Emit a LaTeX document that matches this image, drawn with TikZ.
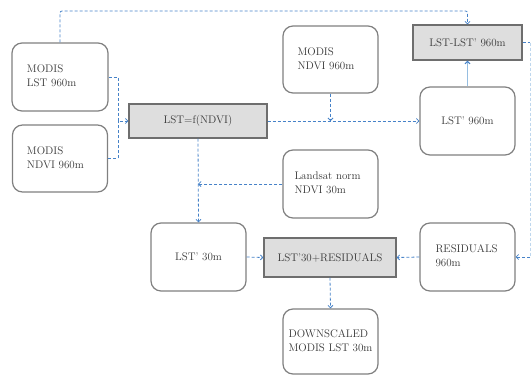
\documentclass[tikz,border=0pt]{standalone}
\usetikzlibrary{arrows.meta,calc}
\definecolor{lineblue}{RGB}{70,130,200}
\definecolor{paleblue}{RGB}{150,190,225}
\definecolor{faintblue}{RGB}{190,215,238}
\definecolor{boxedge}{RGB}{128,128,128}
\definecolor{grayfill}{RGB}{222,222,222}
\definecolor{grayedge}{RGB}{110,110,110}
\definecolor{txt}{RGB}{55,55,55}
\newcommand{\twol}[2]{\raisebox{3pt}{\begin{tabular}{@{}l@{}}#1\\#2\end{tabular}}}
\tikzset{
  rbox/.style={draw=boxedge, line width=1.2pt, rounded corners=10pt, fill=white,
    text=txt, font=\fontsize{11}{14}\selectfont, inner sep=0pt,
    minimum width=95pt, minimum height=68pt, align=left},
  gbox/.style={draw=grayedge, line width=1.2pt, fill=grayfill,
    text=txt, font=\fontsize{11}{14}\selectfont, inner sep=0pt},
  dl/.style={draw=lineblue, line width=0.8pt, dash pattern=on 3pt off 2pt,
    -{Straight Barb[length=2.5pt,width=5pt]}},
  dlp/.style={draw=lineblue, line width=0.8pt, dash pattern=on 3pt off 2pt},
  sl/.style={draw=paleblue, line width=1pt, -{Straight Barb[length=2.5pt,width=5pt,color=lineblue]}}
}
\begin{document}
\begin{tikzpicture}[x=1pt,y=-1pt]
\useasboundingbox (0,0) rectangle (531,376);
% boxes
\node[rbox, minimum width=96pt, text width=66pt] (mlst) at (60,77) {\twol{MODIS}{LST 960m}};
\node[rbox, minimum height=67pt, text width=66pt] (mndvi) at (60,158.5) {\twol{MODIS}{NDVI 960m}};
\node[gbox, minimum width=138pt, minimum height=34pt] (fndvi) at (198,121) {LST=f(NDVI)};
\node[rbox, minimum height=67pt, text width=66pt] (tndvi) at (330.5,59.5) {\twol{MODIS}{NDVI 960m}};
\node[gbox, minimum width=109pt, minimum height=35pt] (diff) at (467.5,42.5) {LST-LST' 960m};
\node[rbox, align=center] (lst960) at (467.5,121) {LST' 960m};
\node[rbox, text width=72pt] (landsat) at (330.5,184) {\twol{Landsat norm}{NDVI 30m}};
\node[rbox, align=center] (lst30) at (198.5,257) {LST' 30m};
\node[gbox, minimum width=132pt, minimum height=39pt] (sum) at (330,257.5) {LST'30+RESIDUALS};
\node[rbox, text width=64pt] (resid) at (467.5,257) {\twol{RESIDUALS}{960m}};
\node[rbox, minimum height=65pt, align=center] (down) at (330.5,341.5) {\twol{DOWNSCALED}{MODIS LST 30m}};
% junction coordinates
\coordinate (topc) at (467.5,11);
\coordinate (j1) at (118,121);
\coordinate (j2) at (330.5,121);
\coordinate (j3) at (198,184);
\coordinate (rc) at (530,42.5);
\coordinate (rb) at (530,257);
% connectors
\draw[dl, rounded corners=2pt] (mlst.north) |- (topc) -- (diff.north);
\draw[dl] (mlst.east) -| (j1) -- (fndvi.west);
\draw[dlp] (mndvi.east) -| (j1);
\draw[dl] (fndvi.east) -- (lst960.west);
\draw[dl] (tndvi.south) -- (j2);
\draw[sl] (lst960.north) -- (diff.south);
\draw[dlp] (diff.east) -- (rc);
\draw[draw=faintblue, line width=0.8pt, dash pattern=on 3pt off 2pt] (rc) -- (rb);
\draw[dl] (rb) -- (resid.east);
\draw[dl] (resid.west) -- (sum.east);
\draw[dl] (lst30.east) -- (sum.west);
\draw[dl] (sum.south) -- (down.north);
\draw[dl] (fndvi.south) -- (lst30.north);
\draw[dl] (landsat.west) -- (j3);
\end{tikzpicture}
\end{document}
